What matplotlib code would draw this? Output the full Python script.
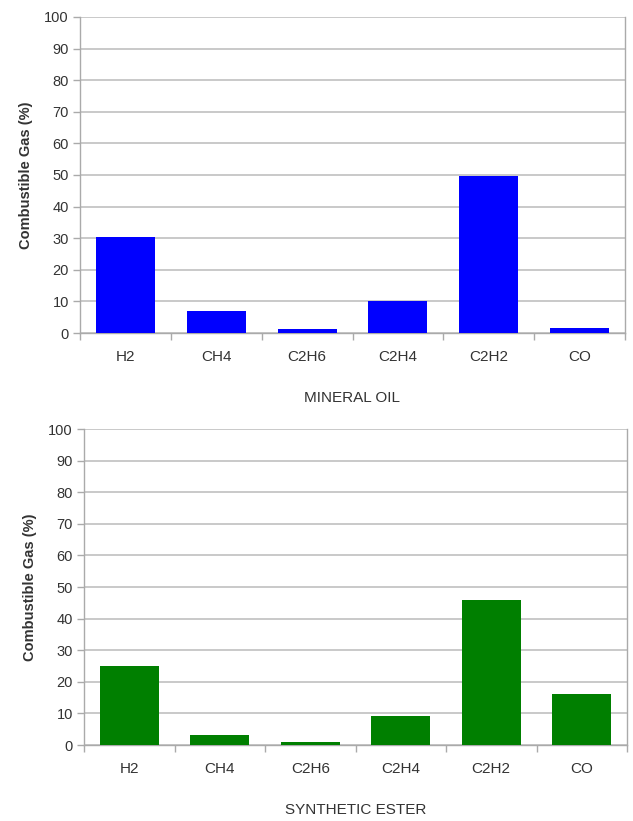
import matplotlib
matplotlib.use("Agg")
import matplotlib.pyplot as plt
import numpy as np

plt.rcParams['font.family'] = ['Liberation Sans', 'DejaVu Sans']

gases = ["H2", "CH4", "C2H6", "C2H4", "C2H2", "CO"]
mineral_oil = [30.5, 7.0, 1.3, 10.0, 49.7, 1.6]
synthetic_ester = [25.0, 3.2, 1.0, 9.2, 45.8, 16.0]
yticks = list(range(0, 101, 10))

W, H = 633, 821
fig = plt.figure(figsize=(W / 100, H / 100), dpi=100)

def make_ax(left, top, right, bottom, values, color, xlabel):
    ax = fig.add_axes([left / W, 1 - bottom / H, (right - left) / W, (bottom - top) / H])
    x = np.arange(len(gases))
    ax.bar(x, values, width=0.65, color=color, zorder=3)
    ax.set_xlim(-0.5, len(gases) - 0.5)
    ax.set_ylim(0, 100)
    ax.set_yticks(yticks)
    ax.set_yticklabels([str(t) for t in yticks], fontsize=10.5, color='#333333')
    ax.set_xticks(x)
    ax.set_xticklabels(gases, fontsize=11, color='#333333')
    ax.tick_params(axis='x', length=0, pad=12)
    ax.set_xticks(np.arange(-0.5, len(gases) + 0.5, 1), minor=True)
    ax.tick_params(axis='x', which='minor', length=5, color='#aaaaaa', width=1)
    ax.tick_params(axis='y', length=5, color='#aaaaaa', width=1, pad=3)
    ax.grid(axis='y', color='#c0c0c0', linewidth=1.2, zorder=0)
    for s in ['left', 'bottom', 'right']:
        ax.spines[s].set_color('#aaaaaa')
        ax.spines[s].set_linewidth(1)
    ax.spines['top'].set_visible(False)
    ax.set_ylabel("Combustible Gas (%)", fontsize=10.5, fontweight='bold', color='#333333', labelpad=8)
    ax.set_xlabel(xlabel, fontsize=11, color='#333333', labelpad=20)
    return ax

make_ax(80, 17, 625, 333, mineral_oil, '#0000ff', "MINERAL OIL")
make_ax(84, 429, 627, 745, synthetic_ester, '#007f00', "SYNTHETIC ESTER")

fig.savefig("out.png", dpi=100)
